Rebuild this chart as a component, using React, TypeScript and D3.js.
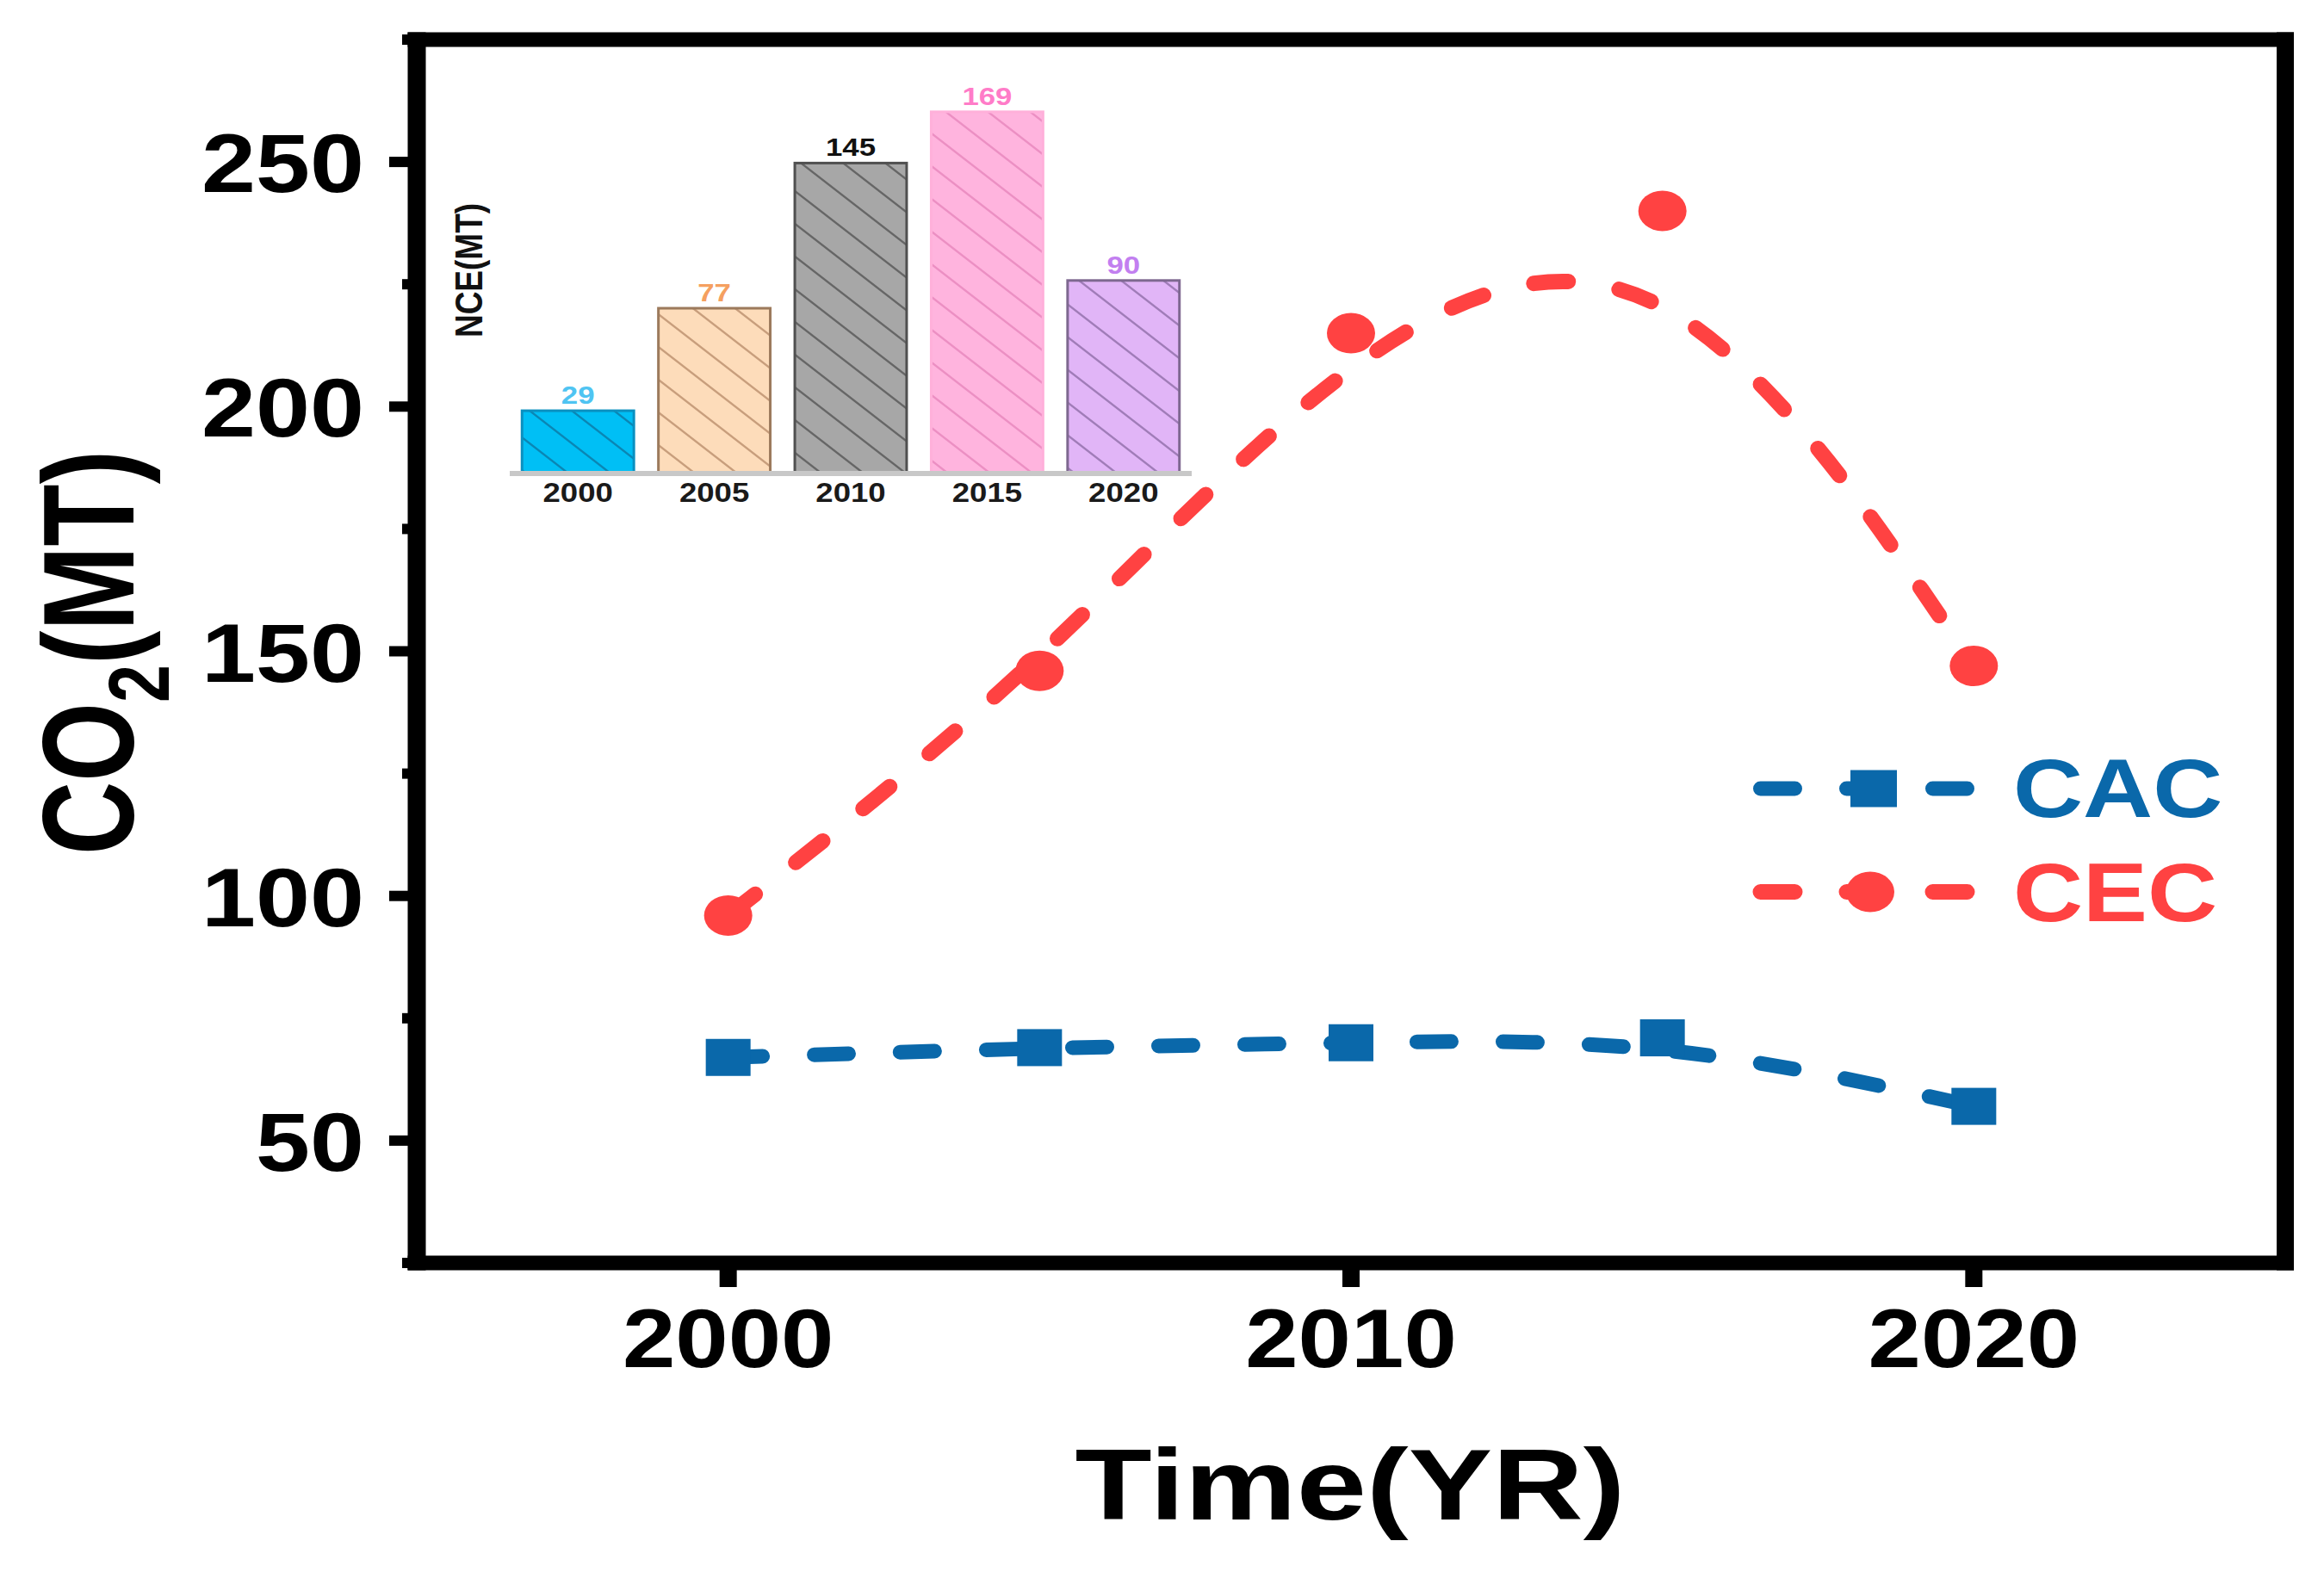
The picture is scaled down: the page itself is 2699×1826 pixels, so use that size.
import React from 'react';
import * as d3 from 'd3';

// ---------- data ----------
const years = [2000, 2005, 2010, 2015, 2020];
const cacValues = [67, 69, 70, 71, 57];
const cecValues = [96, 146, 215, 240, 147];
const nceYears = ['2000', '2005', '2010', '2015', '2020'];
const nceValues = [29, 77, 145, 169, 90];
const yTickValues = [50, 100, 150, 200, 250];
const yMinorTickValues = [25, 75, 125, 175, 225, 275];
const xTickValues = [2000, 2010, 2020];
const seriesNames = ['CAC', 'CEC'];

// ---------- styles ----------
const W = 2699;
const H = 1826;
const BLUE = '#0a68aa';
const RED = '#ff4242';
const FONT = '"Liberation Sans", Arial, Helvetica, sans-serif';
const barFills = ['#00bff5', '#fddcba', '#a7a7a7', '#ffb4de', '#e1b5f7'];
const barHatch = ['#0a86b4', '#c89e7c', '#666666', '#ec8fc3', '#a07cb8'];
const barStroke = ['#0a90c0', '#9c7a5c', '#505050', '#ffb0da', '#7e6890'];
const labelColors = ['#4fc4f2', '#f5a060', '#111111', '#ff7cc8', '#c27ff0'];

type TProps = {
  x: number;
  y: number;
  size: number;
  sx?: number;
  anchor?: 'start' | 'middle' | 'end';
  fill?: string;
  children: React.ReactNode;
};

function T({ x, y, size, sx = 1.18, anchor = 'middle', fill = '#000', children }: TProps) {
  return (
    <text
      transform={`translate(${x},${y}) scale(${sx},1)`}
      textAnchor={anchor}
      fontFamily={FONT}
      fontWeight="bold"
      fontSize={size}
      fill={fill}
    >
      {children}
    </text>
  );
}

export default function App() {
  const x = d3.scaleLinear().domain([1995, 2025]).range([484, 2654]);
  const y = d3.scaleLinear().domain([25, 275]).range([1467, 46]);

  const line = d3
    .line<number>()
    .x((_, i) => x(years[i]))
    .y((d) => y(d))
    .curve(d3.curveBasis);

  const xb = d3
    .scaleBand<string>()
    .domain(nceYears)
    .range([592, 1384])
    .paddingInner(0.18)
    .paddingOuter(0.09);
  const yb = d3.scaleLinear().domain([0, 180]).range([549, 549 - 180 * 2.48]);

  const [x0, x1] = x.range();
  const [yBot, yTop] = y.range();

  const hw = 49;
  const hh = 38;

  return (
    <svg
      width={W}
      height={H}
      viewBox={`0 0 ${W} ${H}`}
      style={{ position: 'absolute', left: 0, top: 0, background: '#fff' }}
    >
      <defs>
        {barFills.map((c, i) => (
          <pattern
            key={i}
            id={`hatch${i}`}
            patternUnits="userSpaceOnUse"
            width={hw}
            height={hh}
          >
            <rect width={hw} height={hh} fill={c} />
            <path
              d={`M-10,${-10 * hh / hw} L${hw + 10},${hh + 10 * hh / hw} M-10,${hh - 10 * hh / hw} L10,${hh + 10 * hh / hw} M${hw - 10},${-10 * hh / hw} L${hw + 10},${10 * hh / hw}`}
              stroke={barHatch[i]}
              strokeWidth={2.4}
              fill="none"
            />
          </pattern>
        ))}
      </defs>
      <rect width={W} height={H} fill="#fff" />

      {/* ---------- inset bar chart ---------- */}
      <g>
        {nceValues.map((v, i) => (
          <rect
            key={i}
            x={xb(nceYears[i])}
            y={yb(v)}
            width={xb.bandwidth()}
            height={yb(0) - yb(v)}
            fill={`url(#hatch${i})`}
            stroke={barStroke[i]}
            strokeWidth={3}
          />
        ))}
        <line
          x1={xb.range()[0]}
          x2={xb.range()[1]}
          y1={yb(0) + 1}
          y2={yb(0) + 1}
          stroke="#c8c8c8"
          strokeWidth={6}
        />
        {nceValues.map((v, i) => (
          <T
            key={`v${i}`}
            x={(xb(nceYears[i]) as number) + xb.bandwidth() / 2}
            y={yb(v) - 8}
            size={29}
            sx={1.2}
            fill={labelColors[i]}
          >
            {v}
          </T>
        ))}
        {nceYears.map((yr, i) => (
          <T
            key={`l${i}`}
            x={(xb(yr) as number) + xb.bandwidth() / 2}
            y={583}
            size={31}
            sx={1.18}
            fill="#1a1a1a"
          >
            {yr}
          </T>
        ))}
        <text
          transform="translate(560,314) scale(1.2,1) rotate(-90)"
          textAnchor="middle"
          fontFamily={FONT}
          fontWeight="bold"
          fontSize={37}
          fill="#111"
        >
          NCE(MT)
        </text>
      </g>

      {/* ---------- main lines ---------- */}
      <path
        d={line(cecValues) || ''}
        fill="none"
        stroke={RED}
        strokeWidth={18}
        strokeDasharray="40 60"
        strokeLinecap="round"
      />
      {cecValues.map((v, i) => (
        <ellipse key={`c${i}`} cx={x(years[i])} cy={y(v)} rx={28} ry={23.5} fill={RED} />
      ))}
      <path
        d={line(cacValues) || ''}
        fill="none"
        stroke={BLUE}
        strokeWidth={17}
        strokeDasharray="40 60"
        strokeLinecap="round"
      />
      {cacValues.map((v, i) => (
        <rect
          key={`s${i}`}
          x={x(years[i]) - 26}
          y={y(v) - 21.5}
          width={52}
          height={43}
          fill={BLUE}
        />
      ))}

      {/* ---------- frame ---------- */}
      <rect x={x0 - 10.5} y={yTop - 8.5} width={21} height={yBot - yTop + 17} fill="#000" />
      <rect x={x1 - 10} y={yTop - 8.5} width={20} height={yBot - yTop + 17} fill="#000" />
      <rect x={x0 - 10.5} y={yTop - 8.5} width={x1 - x0 + 20.5} height={17} fill="#000" />
      <rect x={x0 - 10.5} y={yBot - 8.5} width={x1 - x0 + 20.5} height={17} fill="#000" />

      {/* y ticks */}
      {yTickValues.map((t) => (
        <line key={`yt${t}`} x1={x0 - 32} x2={x0} y1={y(t)} y2={y(t)} stroke="#000" strokeWidth={12} />
      ))}
      {yMinorTickValues.map((t) => (
        <line key={`ym${t}`} x1={x0 - 17} x2={x0} y1={y(t)} y2={y(t)} stroke="#000" strokeWidth={12} />
      ))}
      {yTickValues.map((t) => (
        <T key={`yl${t}`} x={x0 - 61} y={y(t) + 35} size={96} sx={1.18} anchor="end">
          {t}
        </T>
      ))}

      {/* x ticks */}
      {xTickValues.map((t) => (
        <line key={`xt${t}`} x1={x(t)} x2={x(t)} y1={yBot} y2={yBot + 28} stroke="#000" strokeWidth={20} />
      ))}
      {xTickValues.map((t) => (
        <T key={`xl${t}`} x={x(t)} y={1588} size={96} sx={1.15}>
          {t}
        </T>
      ))}

      {/* axis titles */}
      <T x={(x0 + x1) / 2 - 1} y={1765} size={116} sx={1.26}>
        Time(YR)
      </T>
      <text
        transform="translate(155,758) scale(1.27,1) rotate(-90)"
        textAnchor="middle"
        fontFamily={FONT}
        fontWeight="bold"
        fontSize={118}
        fill="#000"
      >
        CO
        <tspan fontSize={79} dy={32}>
          2
        </tspan>
        <tspan fontSize={118} dy={-32}>
          (MT)
        </tspan>
      </text>

      {/* ---------- legend ---------- */}
      <g>
        <line
          x1={2044.5}
          x2={2284.5}
          y1={916}
          y2={916}
          stroke={BLUE}
          strokeWidth={17}
          strokeDasharray="40 60"
          strokeLinecap="round"
        />
        <rect x={2176 - 27} y={916 - 21.5} width={54} height={43} fill={BLUE} />
        <T x={2338} y={949} size={96} sx={1.17} anchor="start" fill={BLUE}>
          {seriesNames[0]}
        </T>
        <line
          x1={2044.5}
          x2={2284.5}
          y1={1036}
          y2={1036}
          stroke={RED}
          strokeWidth={18}
          strokeDasharray="40 60"
          strokeLinecap="round"
        />
        <ellipse cx={2172} cy={1036} rx={28} ry={23.5} fill={RED} />
        <T x={2338} y={1070} size={96} sx={1.17} anchor="start" fill={RED}>
          {seriesNames[1]}
        </T>
      </g>
    </svg>
  );
}
